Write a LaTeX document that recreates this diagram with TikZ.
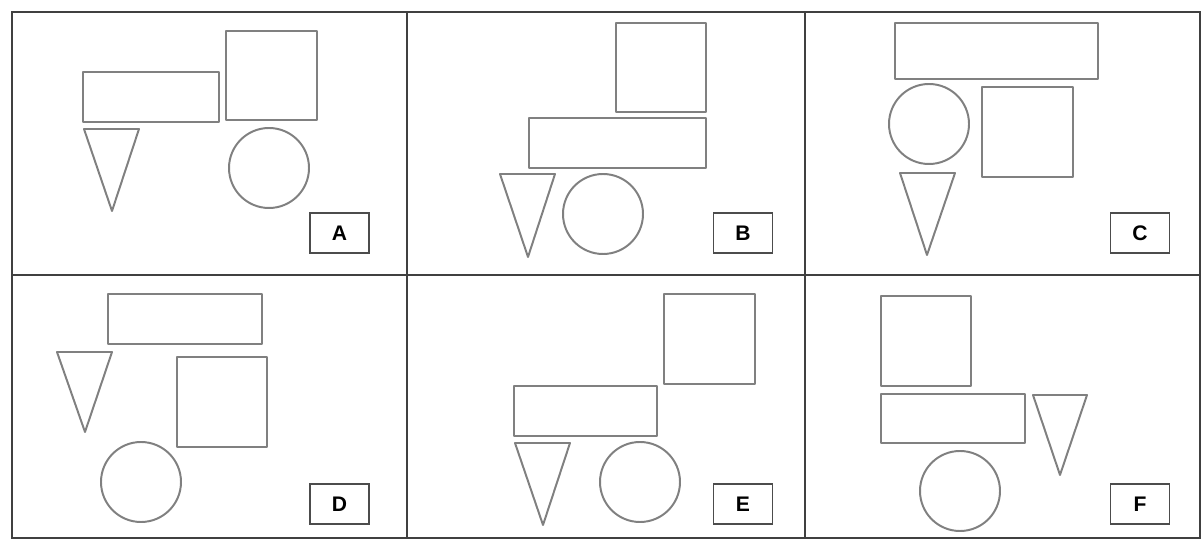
\documentclass[tikz,border=0pt]{standalone}
\usepackage{fontspec}
\setmainfont{Liberation Sans}
\usetikzlibrary{positioning}

\begin{document}
\begin{tikzpicture}[
x=0.25mm, y=-0.25mm,
frame/.style={
  draw=black!75,
  line width=2pt},
fig/.style={
  draw=black!50,
  line width=1.4pt,
  line join=round},
labelbox/.style={
  draw=black!70,
  line width=1.3pt,
  minimum width=14.75mm,
  minimum height=10mm,
  inner sep=0pt,
  font=\fontsize{15}{15}\selectfont\bfseries}
]
\useasboundingbox (0,0) rectangle (1204,544);
% frame of the six panels
\draw[frame] (12,12) rectangle (1200,538);
\draw[frame] (12,275) -- (1200,275);
\foreach \X in {407,805}
  \draw[frame] (\X,12) -- (\X,538);
% panel A
\draw[fig] (83,72) rectangle (219,122);
\draw[fig] (226,31) rectangle (317,120);
\draw[fig] (84,129) -- (139,129) -- (112,211) -- cycle;
\draw[fig] (269,168) circle [radius=40];
% panel B
\draw[fig] (616,23) rectangle (706,112);
\draw[fig] (529,118) rectangle (706,168);
\draw[fig] (500,174) -- (555,174) -- (528,257) -- cycle;
\draw[fig] (603,214) circle [radius=40];
% panel C
\draw[fig] (895,23) rectangle (1098,79);
\draw[fig] (929,124) circle [radius=40];
\draw[fig] (982,87) rectangle (1073,177);
\draw[fig] (900,173) -- (955,173) -- (927,255) -- cycle;
% panel D
\draw[fig] (108,294) rectangle (262,344);
\draw[fig] (57,352) -- (112,352) -- (85,432) -- cycle;
\draw[fig] (177,357) rectangle (267,447);
\draw[fig] (141,482) circle [radius=40];
% panel E
\draw[fig] (664,294) rectangle (755,384);
\draw[fig] (514,386) rectangle (657,436);
\draw[fig] (515,443) -- (570,443) -- (543,525) -- cycle;
\draw[fig] (640,482) circle [radius=40];
% panel F
\draw[fig] (881,296) rectangle (971,386);
\draw[fig] (881,394) rectangle (1025,443);
\draw[fig] (1033,395) -- (1087,395) -- (1060,475) -- cycle;
\draw[fig] (960,491) circle [radius=40];
% answer labels
\node[labelbox] (labA) at (339.5,233) {A};
\node[labelbox] (labB) at (743,233) {B};
\node[labelbox] (labC) at (1140,233) {C};
\node[labelbox] (labD) at (339.5,504) {D};
\node[labelbox] (labE) at (743,504) {E};
\node[labelbox] (labF) at (1140,504) {F};
\end{tikzpicture}
\end{document}
